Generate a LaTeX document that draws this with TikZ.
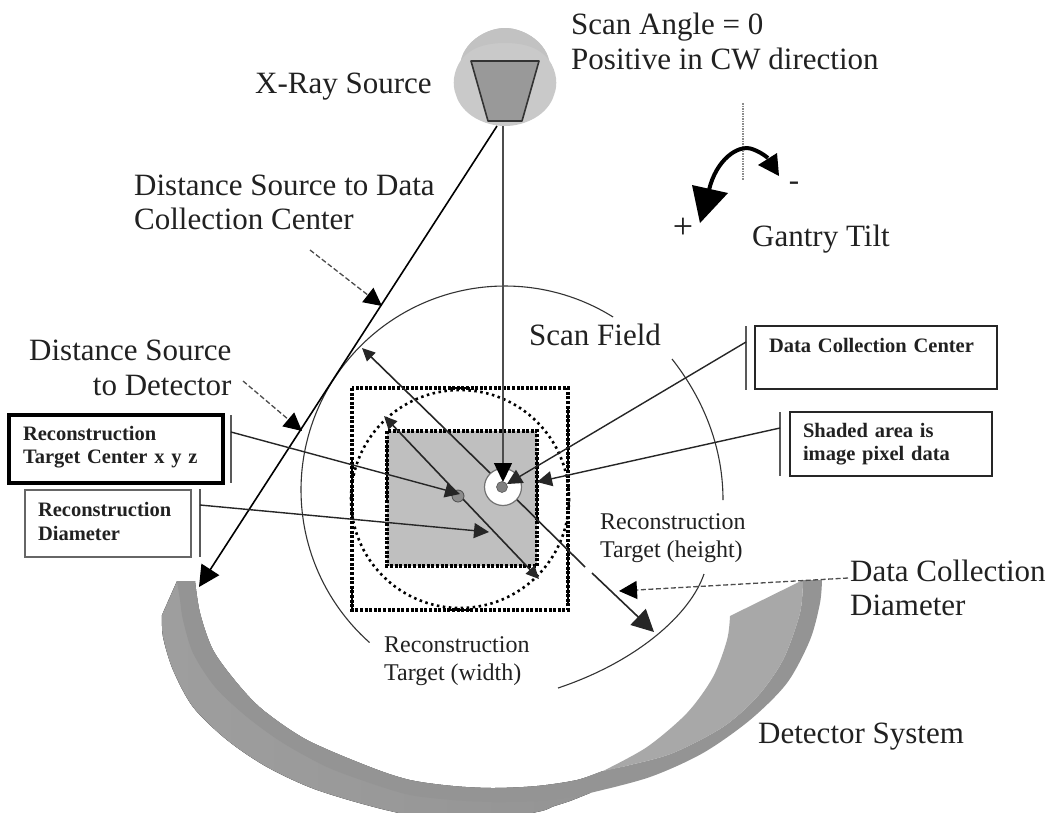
\documentclass[tikz,border=0pt]{standalone}
\usepackage{fontspec}
\setmainfont{Liberation Serif}
\usetikzlibrary{arrows.meta}
\definecolor{strip}{gray}{0.58}
\definecolor{face}{gray}{0.66}
\definecolor{srcbody}{gray}{0.79}
\definecolor{srcface}{gray}{0.60}
\definecolor{pix}{gray}{0.75}
\definecolor{ink}{gray}{0.13}
\tikzset{
  bigtext/.style={font=\fontsize{31}{34.5}\selectfont,text=ink,align=left,inner sep=0pt},
  midtext/.style={font=\fontsize{24}{28}\selectfont,text=ink,align=left,inner sep=0pt},
  labelbox/.style={draw=black!85,line width=1.6pt,fill=white,font=\fontsize{20.5}{23.5}\selectfont\bfseries,text=ink,align=left,inner sep=0pt,anchor=center},
  bar/.style={draw=black!65,line width=1.8pt},
  lead/.style={draw=black!85,line width=1.4pt,-{Triangle[length=15pt,width=15pt]}},
  thin arc/.style={draw=black!80,line width=1.1pt},
  dim/.style={draw=black!85,line width=1.6pt},
  dashlead/.style={draw=black!70,line width=1.3pt,dash pattern=on 5pt off 2.5pt,-{Triangle[length=18pt,width=18pt,color=black,fill=black]}},
  dotrect/.style={draw=black,line width=3.2pt,dash pattern=on 3pt off 1.6pt},
  solidseg/.style={draw=black,line width=2.8pt},
}
\begin{document}
\begin{tikzpicture}[x=1pt,y=-1pt]
\useasboundingbox[fill=white] (0,0) rectangle (1048,812);

% detector
\fill[left color=black!38,middle color=black!56,right color=black!42]
  (177,581) -- (162,615)
  -- plot[smooth] coordinates {(162,615) (163,637) (173,670) (193,707) (227,740) (267,767) (317,790) (390,811) (465,824) (537,812) (553,806.5) (570,801) (590,793)}
  -- (603,771)
  -- plot[smooth] coordinates {(603,771) (577,780) (537,786) (493,788) (453,786) (410,780) (370,767) (307,740) (263,710) (237,683) (213,650) (200,613) (195,581)} -- cycle;
\fill[strip]
  plot[smooth] coordinates {(177,581) (180,600) (183,620) (193,653) (215,687) (247,717) (283,743) (327,767) (370,783) (410,795) (453,800) (493,802) (537,801) (570,797) (590,793) (650,777) (703,753) (750,720) (787,683) (810,640) (820,603) (822,580)}
  -- (803,580)
  -- plot[smooth] coordinates {(803,580) (800,613) (783,660) (757,697) (723,727) (673,753) (630,765) (603,771) (577,780) (537,786) (493,788) (453,786) (410,780) (370,767) (307,740) (263,710) (237,683) (213,650) (200,613) (195,581)} -- cycle;
\fill[face] (803,580) -- (730,616)
  -- plot[smooth] coordinates {(730,616) (727,640) (713,677) (687,713) (647,747) (603,771)}
  -- plot[smooth] coordinates {(603,771) (630,765) (673,753) (723,727) (757,697) (783,660) (800,613) (803,580)} -- cycle;

% scan field arcs
\draw[thin arc] plot[domain=131.6:302,samples=70,smooth] ({505+204*cos(\x)},{490+204*sin(\x)});
\draw[thin arc] (672,359) .. controls (698,392) and (723,440) .. (723,500);
\draw[thin arc] (704,574) .. controls (690,615) and (636,662) .. (558,688);

% x-ray source
\fill[srcbody] (461,60) .. controls (453,72) and (452,85) .. (456,95) .. controls (462,115) and (485,126) .. (505,126) .. controls (525,126) and (548,115) .. (554,95) .. controls (558,85) and (557,72) .. (549,60) -- cycle;
\fill[srcbody] (461,60) .. controls (466,40) and (488,28) .. (505,28) .. controls (522,28) and (544,40) .. (549,60) -- cycle;
\shade[left color=black!24,middle color=black!45,right color=black!24] (461,60) .. controls (466,40) and (488,28) .. (505,28) .. controls (522,28) and (544,40) .. (549,60)
  .. controls (540,48) and (525,43) .. (505,43) .. controls (485,43) and (470,48) .. (461,60) -- cycle;
\draw[draw=black!80,line width=1.6pt,fill=srcface,line join=round] (471,61) -- (539,61) -- (522,121) -- (488,121) -- cycle;
\coordinate (srcL) at (497,126);
\coordinate (srcC) at (503,126);

% reconstruction regions
\fill[pix] (387,431) rectangle (537,566);
\draw[dotrect] (387,431) rectangle (537,566);
\draw[solidseg] (387,440) -- (387,503);
\draw[solidseg] (537,455) -- (537,523);
\draw[dotrect] (352,388) rectangle (568,610);
\draw[solidseg] (352,458) -- (352,520);
\draw[solidseg] (352,588) -- (352,610);
\draw[solidseg] (568,408) -- (568,473);
\draw[solidseg] (568,543) -- (568,603);
\draw[solidseg] (450,388) -- (470,388);
\draw[solidseg] (450,610) -- (470,610);
\draw[black,line width=2.6pt,dash pattern=on 2.5pt off 3.5pt] (460,499) circle[radius=109];

% diagonals
\coordinate (dA) at (362,348);
\coordinate (dB) at (654,632);
\coordinate (dAm) at (486,469);
\coordinate (dBm) at (585,567);
\coordinate (dBn) at (592,573);
\draw[dim,{Triangle[length=13pt,width=12pt]}-] (dA) -- (dAm);
\draw[dim] (dAm) -- (dBm);
\draw[dim,-{Triangle[length=22pt,width=22pt]}] (dBn) -- (dB);
\coordinate (eA) at (384,416);
\coordinate (eB) at (539,579);
\draw[dim,{Triangle[length=13pt,width=12pt]}-{Triangle[length=13pt,width=12pt]}] (eA) -- (eB);

% centres
\node[circle,draw=black!55,line width=1.2pt,fill=white,minimum size=37pt,inner sep=0pt] (dcc) at (503,487) {};
\node[circle,fill=black!50,draw=black!65,line width=.6pt,minimum size=11pt,inner sep=0pt] (dccdot) at (502,487) {};
\node[circle,fill=black!45,draw=black!70,line width=.8pt,minimum size=12pt,inner sep=0pt] (rtc) at (458,496) {};

% source rays
\coordinate (detTip) at (199,587);
\draw[draw=black,line width=1.6pt,-{Triangle[length=21pt,width=21pt]}] (srcL) -- (detTip);
\coordinate (vTip) at (503,482);
\draw[draw=black!70,line width=1.5pt,-{Triangle[length=19pt,width=18pt,color=black,fill=black]}] (srcC) -- (vTip);

% boxes
\node[labelbox,line width=3.2pt,draw=black,minimum width=214pt,minimum height=68pt,text width=186pt] (bTarget) at (116,449) {Reconstruction\\Target Center x y z\par\vspace*{4pt}};
\node[labelbox,draw=black!60,minimum width=166pt,minimum height=67pt,text width=140pt] (bDiam) at (108,523.5) {Reconstruction\\Diameter\par\vspace*{4pt}};
\node[labelbox,minimum width=242pt,minimum height=63pt,text width=214pt] (bDCC) at (876,357.5) {Data Collection Center\\ \mbox{}};
\node[labelbox,minimum width=202pt,minimum height=64pt,text width=176pt] (bShade) at (891,444) {Shaded area is\\image pixel data};

% bars
\coordinate (b1t) at (231,415); \coordinate (b1b) at (231,483); \coordinate (b1m) at (231,432);
\coordinate (b2t) at (200,489); \coordinate (b2b) at (200,557); \coordinate (b2m) at (200,505);
\coordinate (b3t) at (746,326); \coordinate (b3b) at (746,390); \coordinate (b3m) at (746,342);
\coordinate (b4t) at (780,412); \coordinate (b4b) at (780,476); \coordinate (b4m) at (780,428);
\draw[bar] (b1t) -- (b1b);
\draw[bar] (b2t) -- (b2b);
\draw[bar] (b3t) -- (b3b);
\draw[bar] (b4t) -- (b4b);
\coordinate (t1) at (460,494);
\coordinate (t2) at (489,532);
\coordinate (t3) at (507,484);
\coordinate (t4) at (537,482);
\draw[lead] (b1m) -- (t1);
\draw[lead] (b2m) -- (t2);
\draw[lead] (b3m) -- (t3);
\draw[lead] (b4m) -- (t4);

% dashed leaders
\coordinate (dsA) at (310,250); \coordinate (dsB) at (382,306);
\coordinate (ddA) at (243,381); \coordinate (ddB) at (302,431);
\coordinate (dcA) at (848,578); \coordinate (dcB) at (619,591);
\draw[dashlead] (dsA) -- (dsB);
\draw[dashlead] (ddA) -- (ddB);
\draw[dashlead] (dcA) -- (dcB);

% gantry
\coordinate (gT) at (743,103); \coordinate (gB) at (743,180);
\draw[black!45,line width=1.3pt,dash pattern=on 1.5pt off 1pt] (gT) -- (gB);
\coordinate (gL) at (709,190); \coordinate (gR) at (768,158);
\draw[black,line width=4pt] (gL) .. controls (716,160) and (738,144) .. (752,149) .. controls (758,151) and (763,154) .. (gR);
\fill[black] (700,223) -- (692,185) -- (728,193) -- cycle;
\fill[black] (779,176) -- (777,153) -- (758,165) -- cycle;

% texts
\node[bigtext,anchor=west] (tSrc) at (255,87) {X-Ray Source};
\node[bigtext,anchor=west] (tScan) at (571,41.5) {Scan Angle = 0\\Positive in CW direction};
\node[bigtext,anchor=west] (tDist) at (134,202.5) {Distance Source to Data\\Collection Center};
\node[bigtext,anchor=west] (tField) at (529,334.5) {Scan Field};
\node[bigtext,anchor=west,align=right] (tDet) at (29,368) {Distance Source\\to Detector};
\node[bigtext,anchor=west] (tGantry) at (752,239) {Gantry Tilt};
\node[bigtext,anchor=center,font=\fontsize{36}{36}\selectfont] (tPlus) at (683,228) {+};
\node[bigtext,anchor=center] (tMinus) at (794,186) {-};
\node[midtext,anchor=west] (tH) at (600,538.5) {Reconstruction\\Target (height)};
\node[midtext,anchor=west] (tW) at (384,661) {Reconstruction\\Target (width)};
\node[bigtext,anchor=west] (tDiam) at (850,588) {Data Collection\\Diameter};
\node[bigtext,anchor=west] (tSys) at (758,737) {Detector System};
\end{tikzpicture}
\end{document}
